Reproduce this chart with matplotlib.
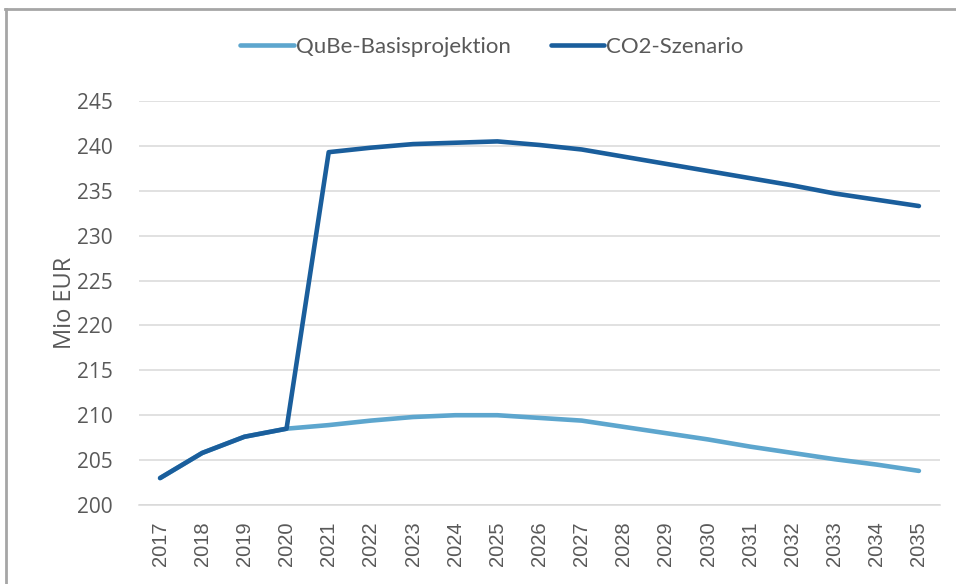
import matplotlib
matplotlib.use("Agg")
import matplotlib.pyplot as plt
from matplotlib.lines import Line2D

years = ["2017", "2018", "2019", "2020", "2021", "2022", "2023", "2024", "2025", "2026",
         "2027", "2028", "2029", "2030", "2031", "2032", "2033", "2034", "2035"]
qube = [203.0, 205.8, 207.6, 208.5, 208.9, 209.4, 209.8, 210.0, 210.0, 209.7,
        209.4, 208.7, 208.0, 207.3, 206.5, 205.8, 205.1, 204.5, 203.8]
co2 = [203.0, 205.8, 207.6, 208.5, 239.3, 239.8, 240.2, 240.35, 240.5, 240.1,
       239.6, 238.8, 238.0, 237.2, 236.4, 235.6, 234.7, 234.0, 233.3]
series_names = ["QuBe-Basisprojektion", "CO2-Szenario"]
y_ticks = [200, 205, 210, 215, 220, 225, 230, 235, 240, 245]

c_light = "#5DA6CE"
c_dark = "#1A5E9C"
txt = "#595959"

fig = plt.figure(figsize=(9.56, 5.84), dpi=100)
ax = fig.add_axes([139/956, 79/584, (940-139)/956, (505-101)/584])

x = list(range(len(years)))
ax.plot(x, qube, color=c_light, lw=3.3, solid_capstyle="round", solid_joinstyle="round", zorder=3)
ax.plot(x, co2, color=c_dark, lw=3.3, solid_capstyle="round", solid_joinstyle="round", zorder=4)

ax.set_xlim(-0.5, len(years) - 0.5)
ax.set_ylim(200, 245)
ax.set_yticks(y_ticks)
ax.set_yticklabels([str(v) for v in y_ticks], fontsize=15, color=txt, family="Open Sans")
ax.set_xticks(x)
ax.set_xticklabels(years, rotation=90, fontsize=14.5, color=txt, family="Liberation Sans")
ax.tick_params(axis="both", length=0)
ax.tick_params(axis="y", pad=19)
ax.tick_params(axis="x", pad=12)
ax.grid(axis="y", color="#D9D9D9", lw=1.1)
ax.set_axisbelow(True)
for s in ["top", "right", "left"]:
    ax.spines[s].set_visible(False)
ax.spines["bottom"].set_color("#D9D9D9")
ax.spines["bottom"].set_linewidth(1.1)
ax.set_ylabel("Mio EUR", fontsize=17, color=txt, family="Open Sans", labelpad=0)

handles = [Line2D([], [], color=c_light, lw=3.3, solid_capstyle="round"),
           Line2D([], [], color=c_dark, lw=3.3, solid_capstyle="round")]
leg = fig.legend(handles, series_names, loc="center", bbox_to_anchor=(492/956, 1 - 47/584),
                 ncol=2, frameon=False, handlelength=2.4, handletextpad=0.1, columnspacing=1.8,
                 prop={"family": "Lato", "size": 16})
for t in leg.get_texts():
    t.set_color(txt)

# outer frame (top and left edges visible)
fig.add_artist(Line2D([5/956, 1], [1 - 9/584, 1 - 9/584], color="#A6A6A6", lw=2, transform=fig.transFigure))
fig.add_artist(Line2D([6/956, 6/956], [0, 1 - 9/584], color="#A6A6A6", lw=2, transform=fig.transFigure))

fig.savefig("out.png", dpi=100)
